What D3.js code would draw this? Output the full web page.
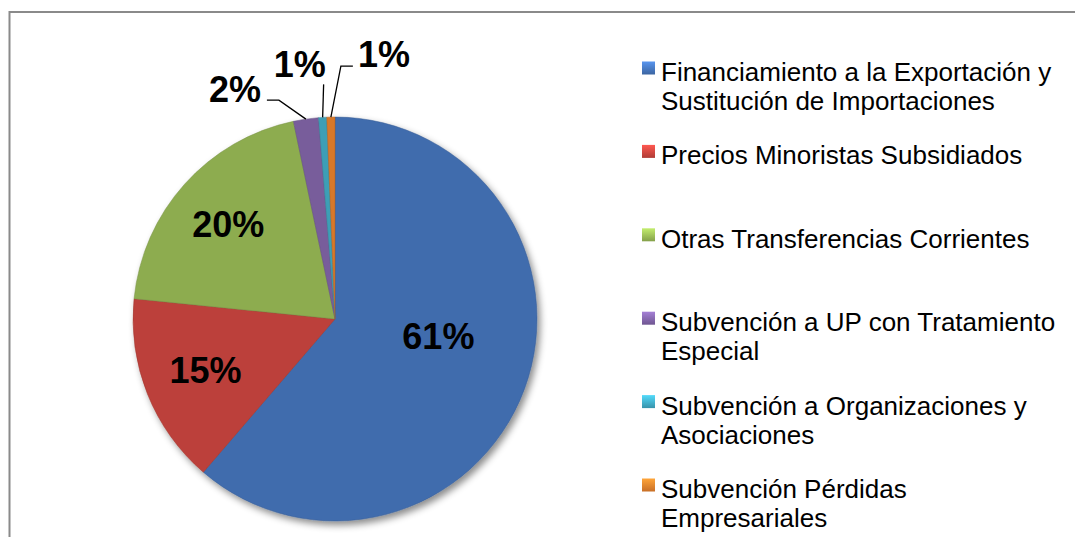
<!DOCTYPE html>
<html>
<head>
<meta charset="utf-8">
<script src="https://cdn.jsdelivr.net/npm/d3@7"></script>
<style>
  html, body { margin: 0; padding: 0; background: #fff; }
  svg { display: block; }
</style>
</head>
<body>
<svg id="chart" width="1075" height="537"></svg>
<script>
// ---- data ----
const categories = [
  "Financiamiento a la Exportación y\nSustitución de Importaciones",
  "Precios Minoristas Subsidiados",
  "Otras Transferencias Corrientes",
  "Subvención a UP con Tratamiento\nEspecial",
  "Subvención a Organizaciones y\nAsociaciones",
  "Subvención Pérdidas\nEmpresariales"
];
const values = [61.3, 15.3, 20.1, 2.0, 0.65, 0.65];
const percentLabels = ["61%", "15%", "20%", "2%", "1%", "1%"];

// ---- style ----
const colors = ["#4a7dc8", "#d94a43", "#a3c65c", "#8a6bb3", "#45b6d2", "#f88a30"];
const font = "'Liberation Sans', Arial, sans-serif";

const svg = d3.select("#chart");
const cx = 335, cy = 319, R = 202;

// frame
svg.append("rect").attr("x", 9.5).attr("y", 12).attr("width", 1100).attr("height", 600)
  .attr("fill", "#fff").attr("stroke", "#8a8a8a").attr("stroke-width", 2);

const defs = svg.append("defs");
const shadow = defs.append("filter").attr("id", "shadow")
  .attr("x", "-20%").attr("y", "-20%").attr("width", "140%").attr("height", "140%");
shadow.append("feDropShadow").attr("dx", 3).attr("dy", 4).attr("stdDeviation", 3.5)
  .attr("flood-color", "#000").attr("flood-opacity", 0.45);

colors.forEach((c, i) => {
  const base = d3.color(c);
  const g = defs.append("radialGradient").attr("id", "grad" + i)
    .attr("gradientUnits", "userSpaceOnUse")
    .attr("cx", cx).attr("cy", cy).attr("r", R);
  g.append("stop").attr("offset", "0%").attr("stop-color", base.darker(0.08));
  g.append("stop").attr("offset", "60%").attr("stop-color", base);
  g.append("stop").attr("offset", "93%").attr("stop-color", base.darker(0.05));
  g.append("stop").attr("offset", "96%").attr("stop-color", base.brighter(0.2));
  g.append("stop").attr("offset", "100%").attr("stop-color", base.darker(0.4));
  const lg = defs.append("linearGradient").attr("id", "sq" + i)
    .attr("x1", 0).attr("y1", 0).attr("x2", 0).attr("y2", 1);
  lg.append("stop").attr("offset", "0%").attr("stop-color", base.brighter(0.5));
  lg.append("stop").attr("offset", "100%").attr("stop-color", base.darker(0.6));
});

const pie = d3.pie().sort(null).value(d => d).startAngle(0).endAngle(2 * Math.PI);
const arcs = pie(values);
const arc = d3.arc().innerRadius(0).outerRadius(R);

const g = svg.append("g").attr("transform", `translate(${cx},${cy})`);
const pieG = g.append("g").attr("filter", "url(#shadow)");
pieG.selectAll("path").data(arcs).enter().append("path")
  .attr("d", arc)
  .attr("fill", (d, i) => `url(#grad${i})`)
  .attr("stroke", (d, i) => d3.color(colors[i]).darker(0.9))
  .attr("stroke-width", 0.8)
  .attr("stroke-opacity", 0.6);

// inner labels
const innerRadiusFactor = [0.53, 0.69, 0.71];
const innerDy = [-19, 0, 2];
const mid = d => (d.startAngle + d.endAngle) / 2;
arcs.slice(0, 3).forEach((d, i) => {
  const a = mid(d), r = R * innerRadiusFactor[i];
  g.append("text")
    .attr("x", r * Math.sin(a) + (i === 0 ? 3 : 0))
    .attr("y", -r * Math.cos(a) + 12 + innerDy[i])
    .attr("text-anchor", "middle")
    .attr("font-family", font).attr("font-weight", "bold").attr("font-size", 36)
    .attr("fill", "#000")
    .text(percentLabels[i]);
});

// outside labels with leader lines
const outside = [
  { i: 3, pts: [[-27, -19], [-39, -19]], lx: -45, ly: -17.5, anchor: "end" },
  { i: 4, pts: [[1, -33]], lx: -23, ly: -40, anchor: "middle" },
  { i: 5, pts: [[10, -51], [22, -51]], lx: 27, ly: -50, anchor: "start" }
];
outside.forEach(o => {
  const d = arcs[o.i], a = mid(d);
  const ex = R * Math.sin(a), ey = -R * Math.cos(a);
  const line = [[ex, ey]].concat(o.pts.map(p => [ex + p[0], ey + p[1]]));
  g.append("path").attr("d", d3.line()(line))
    .attr("fill", "none").attr("stroke", "#000").attr("stroke-width", 1.3);
  g.append("text")
    .attr("x", ex + o.lx).attr("y", ey + o.ly)
    .attr("text-anchor", o.anchor)
    .attr("font-family", font).attr("font-weight", "bold").attr("font-size", 36)
    .attr("fill", "#000")
    .text(percentLabels[o.i]);
});

// legend
const legend = svg.append("g");
const legY = d3.scalePoint().domain(d3.range(categories.length)).range([81, 498]);
categories.forEach((c, i) => {
  const y = legY(i);
  legend.append("rect")
    .attr("x", 642).attr("y", y - 19.5).attr("width", 13).attr("height", 13)
    .attr("fill", `url(#sq${i})`);
  const t = legend.append("text")
    .attr("x", 661).attr("y", y)
    .attr("font-family", font).attr("font-size", 26).attr("fill", "#000");
  c.split("\n").forEach((line, k) => {
    t.append("tspan").attr("x", 661).attr("y", y + k * 29).text(line);
  });
});
</script>
</body>
</html>
